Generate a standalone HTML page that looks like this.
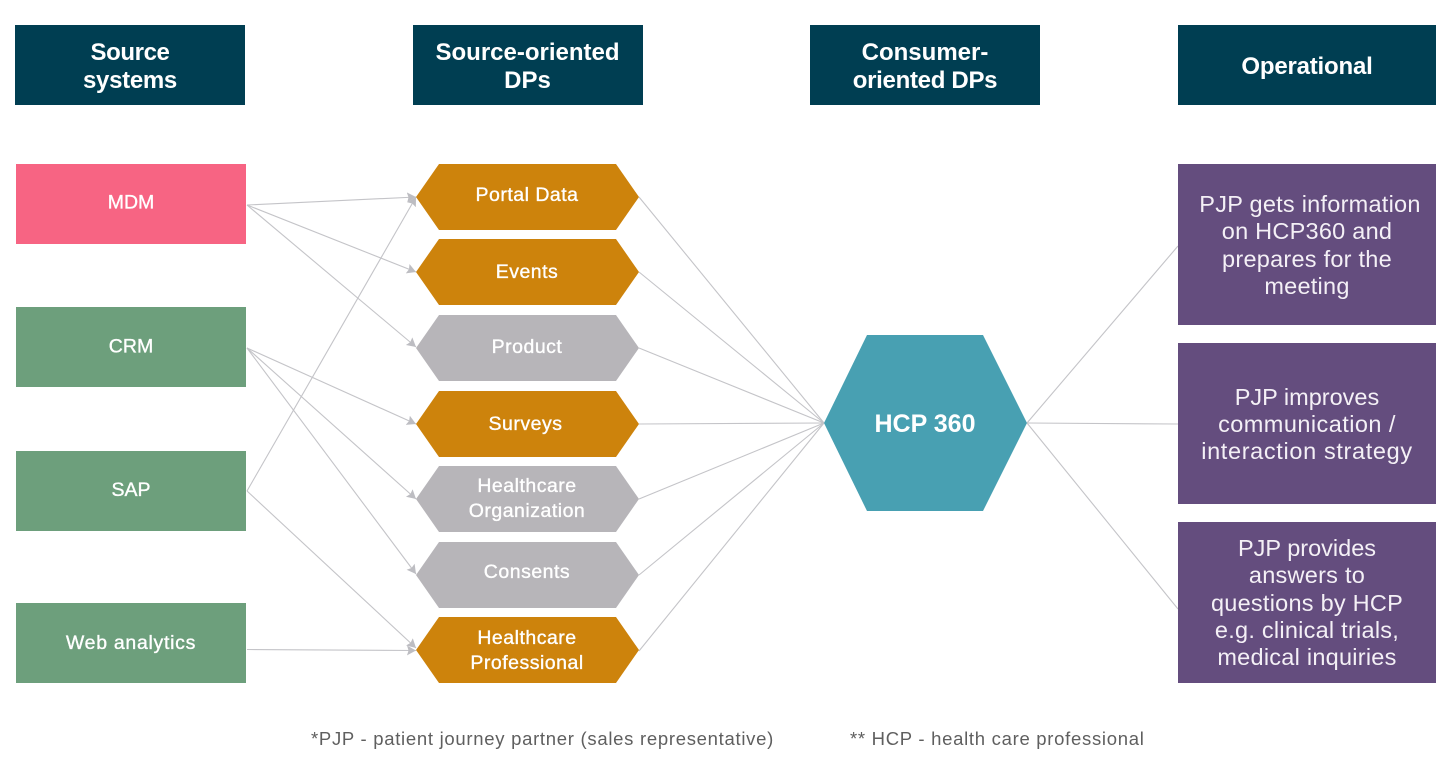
<!DOCTYPE html>
<html><head><meta charset="utf-8"><style>
html,body{margin:0;padding:0;background:#fff}
svg{display:block}
text{font-family:"Liberation Sans",sans-serif;text-anchor:middle;fill:#fff}
.h{font-size:24px;font-weight:700;fill:#fff}
.n{font-size:19.5px;font-weight:400;stroke:#fff;stroke-width:.35px;letter-spacing:.5px}
.c{letter-spacing:0}
.o{font-size:23.5px;font-weight:400;fill:#f4f0f6;letter-spacing:.25px}
.f{font-size:18.5px;fill:#5f5f5f;text-anchor:start;letter-spacing:.71px}
</style></head><body>
<svg width="1456" height="762" viewBox="0 0 1456 762" xmlns="http://www.w3.org/2000/svg">
<defs><marker id="a" markerUnits="userSpaceOnUse" markerWidth="10" markerHeight="12" refX="9" refY="6" orient="auto"><path d="M0 1L9 6L0 11L1.500 6Z" fill="#bdbdc2"/></marker></defs>
<rect x="15" y="25" width="230" height="80" fill="#003e52"/>
<rect x="413" y="25" width="230" height="80" fill="#003e52"/>
<rect x="810" y="25" width="230" height="80" fill="#003e52"/>
<rect x="1178" y="25" width="258" height="80" fill="#003e52"/>
<text class="h" x="130" y="60" letter-spacing="-.4">Source</text><text class="h" x="130" y="88" letter-spacing="-.3">systems</text>
<text class="h" x="527.500" y="60">Source-oriented</text><text class="h" x="527.500" y="88">DPs</text>
<text class="h" x="925" y="60">Consumer-</text><text class="h" x="925" y="88" letter-spacing="-.3">oriented DPs</text>
<text class="h" x="1307" y="74" letter-spacing="-.2">Operational</text>

<g stroke="#c4c4c8" stroke-width="1.1" fill="none">
<g marker-end="url(#a)">
<path d="M247 205L416 197"/><path d="M247 205L416 272"/><path d="M247 205L416 347"/>
<path d="M247 348L416 424"/><path d="M247 348L416 499"/><path d="M247 348L416 574"/>
<path d="M247 491L416 197"/><path d="M247 491L416 648"/><path d="M247 649.500L416 650.500"/>
</g>
<path d="M639 197L824 423"/><path d="M639 272L824 423"/><path d="M639 348L824 423"/><path d="M639 424L824 423"/><path d="M639 499L824 423"/><path d="M639 575L824 423"/><path d="M639 651L824 423"/>
<path d="M1027 423L1178 246"/><path d="M1027 423L1178 424"/><path d="M1027 423L1178 609"/>
</g>

<rect x="16" y="164" width="230" height="80" fill="#f76483"/>
<rect x="16" y="307" width="230" height="80" fill="#6d9f7c"/>
<rect x="16" y="451" width="230" height="80" fill="#6d9f7c"/>
<rect x="16" y="603" width="230" height="80" fill="#6d9f7c"/>
<text class="n c" x="131" y="208.500">MDM</text>
<text class="n c" x="131" y="352.500">CRM</text>
<text class="n c" x="131" y="496">SAP</text>
<text class="n" x="131" y="649" letter-spacing=".7" style="letter-spacing:.7px">Web analytics</text>

<g>
<polygon points="416,197 439,164 616,164 639,197 616,230 439,230" fill="#cd830c"/>
<polygon points="416,272 439,239 616,239 639,272 616,305 439,305" fill="#cd830c"/>
<polygon points="416,348 439,315 616,315 639,348 616,381 439,381" fill="#b7b5b9"/>
<polygon points="416,424 439,391 616,391 639,424 616,457 439,457" fill="#cd830c"/>
<polygon points="416,499 439,466 616,466 639,499 616,532 439,532" fill="#b7b5b9"/>
<polygon points="416,575 439,542 616,542 639,575 616,608 439,608" fill="#b7b5b9"/>
<polygon points="416,650 439,617 616,617 639,650 616,683 439,683" fill="#cd830c"/>
</g>
<text class="n" x="527" y="201">Portal Data</text>
<text class="n" x="527" y="278">Events</text>
<text class="n" x="527" y="353">Product</text>
<text class="n" x="525.500" y="430">Surveys</text>
<text class="n" x="527" y="492">Healthcare</text><text class="n" x="527" y="517">Organization</text>
<text class="n" x="527" y="578">Consents</text>
<text class="n" x="527" y="644">Healthcare</text><text class="n" x="527" y="669">Professional</text>

<polygon points="824,423 867,335 983,335 1027,423 983,511 867,511" fill="#48a0b2"/>
<text x="925" y="432" font-size="25" font-weight="700">HCP 360</text>

<rect x="1178" y="164" width="258" height="161" fill="#644d7e"/>
<rect x="1178" y="343" width="258" height="161" fill="#644d7e"/>
<rect x="1178" y="522" width="258" height="161" fill="#644d7e"/>
<text class="o" x="1310" y="212">PJP gets information</text>
<text class="o" x="1307" y="239">on HCP360 and</text>
<text class="o" x="1307" y="267">prepares for the</text>
<text class="o" x="1307" y="294">meeting</text>
<text class="o" x="1307" y="405" style="letter-spacing:0">PJP improves</text>
<text class="o" x="1307" y="432" style="letter-spacing:.45px">communication /</text>
<text class="o" x="1307" y="459" style="letter-spacing:.65px">interaction strategy</text>
<text class="o" x="1307" y="556" style="letter-spacing:0">PJP provides</text>
<text class="o" x="1307" y="583">answers to</text>
<text class="o" x="1307" y="611">questions by HCP</text>
<text class="o" x="1307" y="638">e.g. clinical trials,</text>
<text class="o" x="1307" y="665">medical inquiries</text>

<text class="f" x="311" y="745">*PJP - patient journey partner (sales representative)</text>
<text class="f" x="850" y="745">** HCP - health care professional</text>
</svg>
</body></html>
